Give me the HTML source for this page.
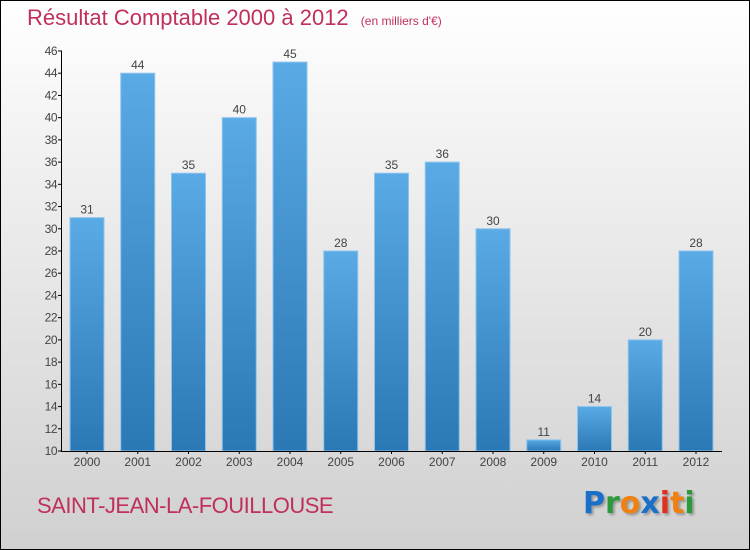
<!DOCTYPE html>
<html><head><meta charset="utf-8"><style>
html,body{margin:0;padding:0}
body{width:750px;height:550px;overflow:hidden}
#wrap{position:relative;width:748px;height:548px;border:1px solid #000;background:linear-gradient(#ffffff 0%,#f0f0f0 30%,#d0d0d0 100%);font-family:"Liberation Sans",sans-serif}
.t{position:absolute;white-space:nowrap}
</style></head><body>
<div id="wrap">
<div class="t" style="left:26px;top:4px;font-size:22px;color:#c0305a;">Résultat Comptable 2000 à 2012 <span style="font-size:12px;margin-left:6px">(en milliers d'€)</span></div>
<svg id="chart" width="750" height="550" style="position:absolute;left:-1px;top:-1px">
<defs><linearGradient id="bg" x1="0" y1="0" x2="0" y2="1"><stop offset="0" stop-color="#5aaae6"/><stop offset="1" stop-color="#2a78b4"/></linearGradient></defs>
</svg>
<div class="t" style="left:36px;top:492px;font-size:22px;color:#c0305a;letter-spacing:-0.5px">SAINT-JEAN-LA-FOUILLOUSE</div>
<div class="t" style="left:582px;top:485px;font-size:30px;font-weight:bold;font-family:'DejaVu Sans',sans-serif;text-shadow:2px 2px 2px #999"><span style="color:#1a6fc8">P</span><span style="color:#2a9a3a">r</span><span style="color:#f08010">o</span><span style="color:#1a6fc8">x</span><span style="color:#e03020">i</span><span style="color:#f08010">t</span><span style="color:#2a9a3a">i</span></div>
</div>
<script>
const categories=["2000","2001","2002","2003","2004","2005","2006","2007","2008","2009","2010","2011","2012"];
const values=[31,44,35,40,45,28,35,36,30,11,14,20,28];
const yTicks=[10,12,14,16,18,20,22,24,26,28,30,32,34,36,38,40,42,44,46];
const svg=document.getElementById('chart');
const NS='http://www.w3.org/2000/svg';
const y0=451,y1=51,vmin=10,vmax=46;
const y=v=>y0-(v-vmin)/(vmax-vmin)*(y0-y1);
const x=i=>70+i*50.75;
const bw=34;
function mk(t,a){const e=document.createElementNS(NS,t);for(const k in a)e.setAttribute(k,a[k]);svg.appendChild(e);return e;}
values.forEach((v,i)=>{
 const r=mk('rect',{x:x(i),y:y(v),width:bw,height:y0-y(v),fill:'url(#bg)',stroke:'#8cc4ee','stroke-width':1});
 
 
 const t=mk('text',{x:x(i)+bw/2,y:y(v)-4,'text-anchor':'middle','font-size':12,fill:'#444','font-family':'Liberation Sans, sans-serif'});
 t.textContent=v;
 
 
 const c=mk('text',{x:x(i)+bw/2,y:466,'text-anchor':'middle','font-size':12,fill:'#444','font-family':'Liberation Sans, sans-serif'});
 c.textContent=categories[i];
 
 
 mk('line',{x1:x(i)+bw/2,x2:x(i)+bw/2,y1:y0,y2:y0+3,stroke:'#000'});
});
yTicks.forEach(v=>{
 mk('line',{x1:58,x2:62,y1:y(v),y2:y(v),stroke:'#000'});
 const t=mk('text',{x:57,y:y(v)+4,'text-anchor':'end','font-size':12,fill:'#444','font-family':'Liberation Sans, sans-serif','letter-spacing':'-0.5'});
 t.textContent=v;
 
 
});
const ya=mk('line',{x1:61.5,x2:61.5,y1:y1,y2:y0,stroke:'#000'});


const xa=mk('line',{x1:61,x2:722,y1:y0+0.5,y2:y0+0.5,stroke:'#000'});


</script>
</body></html>
